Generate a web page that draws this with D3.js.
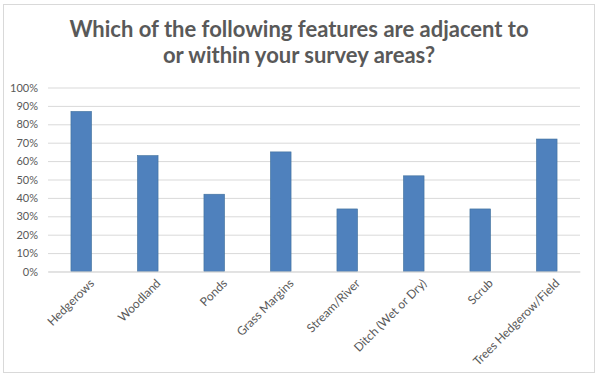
<!DOCTYPE html>
<html>
<head>
<meta charset="utf-8">
<script src="https://cdn.jsdelivr.net/npm/d3@7"></script>
<style>
  body { margin: 0; background: #fff; }
  text { font-family: Lato, "Open Sans", sans-serif; fill: #595959; }
</style>
</head>
<body>
<script>
var categories = ["Hedgerows", "Woodland", "Ponds", "Grass Margins", "Stream/River",
    "Ditch (Wet or Dry)", "Scrub", "Trees Hedgerow/Field"];
var values = [0.87, 0.63, 0.42, 0.65, 0.34, 0.52, 0.34, 0.72];
var yTicks = [0, 0.1, 0.2, 0.3, 0.4, 0.5, 0.6, 0.7, 0.8, 0.9, 1];
var titleLines = ["Which of the following features are adjacent to", "or within your survey areas?"];

var margin = { top: 87.5, left: 48, right: 20, bottom: 106.5 },
    width = 600, height = 378,
    plotW = width - margin.left - margin.right,
    plotH = height - margin.top - margin.bottom;

var svg = d3.select("body").append("svg")
    .attr("width", width)
    .attr("height", height);

// outer frame
svg.append("rect")
    .attr("x", 3.5).attr("y", 4.5)
    .attr("width", 591).attr("height", 368)
    .attr("fill", "none")
    .attr("stroke", "#d9d9d9");

svg.selectAll(".title")
    .data(titleLines)
    .enter().append("text")
    .attr("class", "title")
    .attr("x", 299)
    .attr("y", function (d, i) { return 37 + i * 26; })
    .attr("text-anchor", "middle")
    .style("font-size", "22px")
    .style("font-weight", "bold")
    .text(function (d) { return d; });

var xScale = d3.scaleBand()
    .domain(categories)
    .range([0, plotW])
    .paddingInner(0.69)
    .paddingOuter(0.345);

var yScale = d3.scaleLinear()
    .domain([0, 1])
    .range([plotH, 0]);

var g = svg.append("g")
    .attr("transform", "translate(" + margin.left + "," + margin.top + ")");

// gridlines + y labels
var yAxis = d3.axisLeft(yScale)
    .tickValues(yTicks)
    .tickSize(-plotW)
    .tickPadding(10)
    .tickFormat(d3.format(".0%"));

g.append("g")
    .attr("class", "y-axis")
    .call(yAxis)
    .call(function (a) {
        a.select(".domain").remove();
        a.selectAll("line").attr("stroke", "#d9d9d9");
        a.selectAll("text").style("font-size", "11px").attr("fill", "#595959");
    });

g.selectAll(".bar")
    .data(values)
    .enter().append("rect")
    .attr("class", "bar")
    .attr("x", function (d, i) { return xScale(categories[i]); })
    .attr("y", function (d) { return yScale(d); })
    .attr("width", xScale.bandwidth())
    .attr("height", function (d) { return plotH - yScale(d); })
    .attr("fill", "#4f81bd")
    .attr("stroke", "#41719c")
    .attr("stroke-width", 0.6);

var xAxis = d3.axisBottom(xScale).tickSize(0).tickPadding(8);

g.append("g")
    .attr("class", "x-axis")
    .attr("transform", "translate(0," + plotH + ")")
    .call(xAxis)
    .call(function (a) {
        a.select(".domain").attr("stroke", "#d9d9d9");
        a.selectAll("text")
            .style("font-size", "12px")
            .attr("fill", "#595959")
            .attr("text-anchor", "end")
            .attr("dy", "0.35em")
            .attr("transform", "translate(5,4) rotate(-45)");
    });
</script>
</body>
</html>
